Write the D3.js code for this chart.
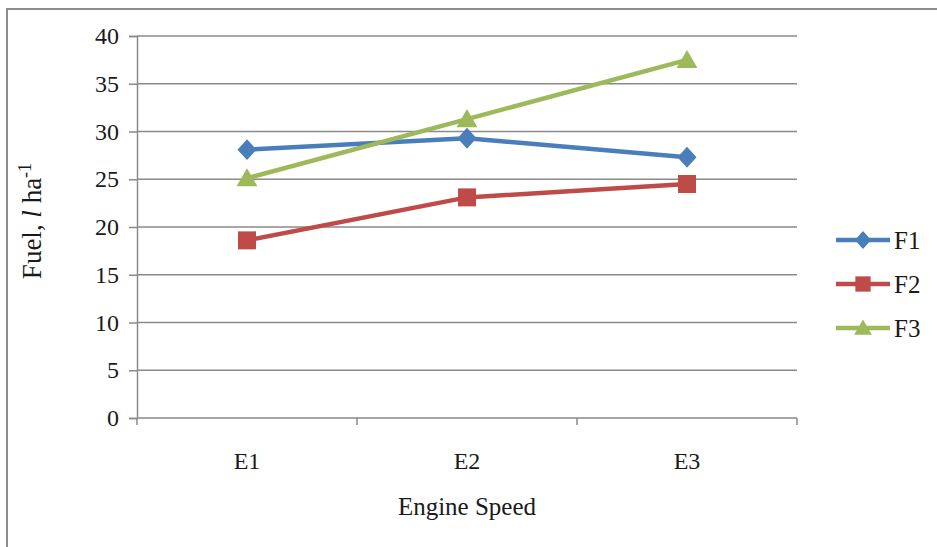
<!DOCTYPE html>
<html>
<head>
<meta charset="utf-8">
<script src="https://cdn.jsdelivr.net/npm/d3@7"></script>
<style>
  html, body { margin: 0; padding: 0; background: #fff; }
  svg { display: block; }
  text { font-family: "Liberation Serif", "Times New Roman", serif; fill: #1a1a1a; }
</style>
</head>
<body>
<svg id="chart" width="937" height="547"></svg>
<script>
// Fuel consumption by engine speed for three treatments
const categories = ["E1", "E2", "E3"];
const seriesNames = ["F1", "F2", "F3"];
const f1 = [28.1, 29.3, 27.3];
const f2 = [18.6, 23.1, 24.5];
const f3 = [25.1, 31.3, 37.5];
const yTicks = [0, 5, 10, 15, 20, 25, 30, 35, 40];
const colors = ["#4A7EBB", "#BE4B48", "#9DB95A"];

// marker shapes, drawn with the given half-size r
const diamond = { draw(ctx, r) { ctx.moveTo(0, -r * 1.1); ctx.lineTo(r, 0); ctx.lineTo(0, r * 1.1); ctx.lineTo(-r, 0); ctx.closePath(); } };
const square = { draw(ctx, r) { ctx.rect(-r, -r, 2 * r, 2 * r); } };
const triangle = { draw(ctx, r) { ctx.moveTo(0, -r * 1.05); ctx.lineTo(r * 1.1, r * 0.85); ctx.lineTo(-r * 1.1, r * 0.85); ctx.closePath(); } };
const markers = [diamond, square, triangle];
const radii = [9.5, 9, 9.5];

const series = [f1, f2, f3].map((vals, i) => ({
  name: seriesNames[i],
  color: colors[i],
  symbol: markers[i],
  r: radii[i],
  values: vals.map((v, j) => ({ cat: categories[j], v }))
}));

const svg = d3.select("#chart");

// outer chart frame
svg.append("rect")
  .attr("x", 7).attr("y", 9)
  .attr("width", 945).attr("height", 560)
  .attr("fill", "none").attr("stroke", "#8c8c8c").attr("stroke-width", 2);

const plot = { left: 137, right: 797, top: 36, bottom: 418 };

const x = d3.scaleBand().domain(categories)
  .range([plot.left, plot.right]).paddingInner(0).paddingOuter(0);
const y = d3.scaleLinear().domain([0, 40]).range([plot.bottom, plot.top]);

// horizontal gridlines
svg.append("g")
  .selectAll("line")
  .data(yTicks.filter(t => t > 0))
  .join("line")
  .attr("x1", plot.left).attr("x2", plot.right)
  .attr("y1", d => y(d)).attr("y2", d => y(d))
  .attr("stroke", "#8a8a8a").attr("stroke-width", 1.5);

// y axis
const yAxis = svg.append("g")
  .attr("transform", `translate(${plot.left},0)`)
  .call(d3.axisLeft(y).tickValues(yTicks).tickSize(8).tickPadding(10));
yAxis.select(".domain").attr("stroke", "#8a8a8a").attr("stroke-width", 1.5);
yAxis.selectAll(".tick line").attr("stroke", "#8a8a8a").attr("stroke-width", 1.5);
yAxis.selectAll(".tick text")
  .style("font-family", "'Liberation Serif', serif")
  .style("font-size", "24px").attr("fill", "#1a1a1a");

// x axis: line with ticks at category boundaries
const xg = svg.append("g");
xg.append("line")
  .attr("x1", plot.left).attr("x2", plot.right)
  .attr("y1", plot.bottom).attr("y2", plot.bottom)
  .attr("stroke", "#8a8a8a").attr("stroke-width", 1.5);
const bounds = categories.map(c => x(c)).concat([x(categories[categories.length - 1]) + x.bandwidth()]);
xg.selectAll("line.tk")
  .data(bounds)
  .join("line").attr("class", "tk")
  .attr("x1", d => d).attr("x2", d => d)
  .attr("y1", plot.bottom).attr("y2", plot.bottom + 7)
  .attr("stroke", "#8a8a8a").attr("stroke-width", 1.5);
xg.selectAll("text")
  .data(categories)
  .join("text")
  .attr("x", d => x(d) + x.bandwidth() / 2)
  .attr("y", 469)
  .attr("text-anchor", "middle")
  .style("font-size", "24px")
  .text(d => d);

// axis titles
svg.append("text")
  .attr("x", 467).attr("y", 515)
  .attr("text-anchor", "middle")
  .style("font-size", "25px")
  .text("Engine Speed");

const yt = svg.append("text")
  .attr("transform", "translate(41,221) rotate(-90)")
  .attr("text-anchor", "middle")
  .style("font-size", "27px");
yt.append("tspan").text("Fuel, ");
yt.append("tspan").style("font-style", "italic").text("l");
yt.append("tspan").text(" ha");
yt.append("tspan").attr("dy", -10).style("font-size", "18px").text("-1");

// series lines and markers
const cx = d => x(d.cat) + x.bandwidth() / 2;
const line = d3.line().x(cx).y(d => y(d.v));

series.forEach(s => {
  const g = svg.append("g");
  g.append("path")
    .datum(s.values)
    .attr("d", line)
    .attr("fill", "none")
    .attr("stroke", s.color)
    .attr("stroke-width", 4.5)
    .attr("stroke-linejoin", "round");
  g.selectAll("path.m")
    .data(s.values)
    .join("path").attr("class", "m")
    .attr("d", d3.symbol().type(s.symbol).size(s.r))
    .attr("transform", d => `translate(${cx(d)},${y(d.v)})`)
    .attr("fill", s.color);
});

// legend
const legend = svg.append("g");
series.forEach((s, i) => {
  const ly = 240 + i * 44;
  legend.append("line")
    .attr("x1", 836).attr("x2", 890)
    .attr("y1", ly).attr("y2", ly)
    .attr("stroke", s.color).attr("stroke-width", 4.5);
  legend.append("path")
    .attr("d", d3.symbol().type(s.symbol).size(s.r * 0.85))
    .attr("transform", `translate(863,${ly})`)
    .attr("fill", s.color);
  legend.append("text")
    .attr("x", 894).attr("y", ly + 9)
    .style("font-size", "25px")
    .text(s.name);
});
</script>
</body>
</html>
